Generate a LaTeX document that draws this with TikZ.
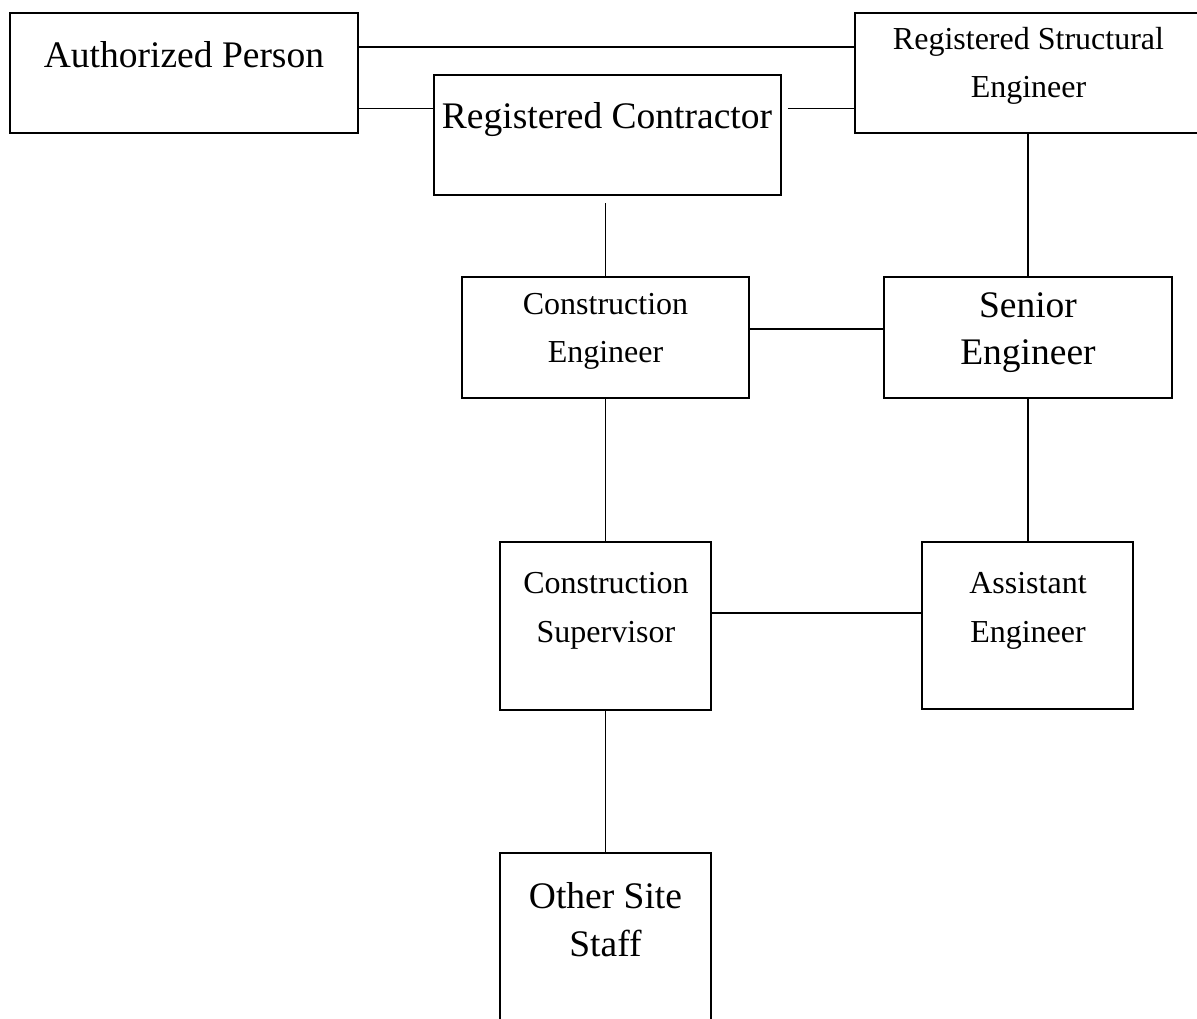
\documentclass[tikz,border=0pt]{standalone}
\usepackage{fontspec}
\setmainfont{Liberation Serif}
\usetikzlibrary{calc}
\tikzset{
  box/.style={draw=black, line width=1.6pt, rectangle, inner sep=0pt, fill=none},
  big/.style={font=\fontsize{37.5}{48}\selectfont, anchor=base, align=center, inner sep=0pt},
  small/.style={font=\fontsize{32}{48}\selectfont, anchor=base, align=center, inner sep=0pt},
  link/.style={draw=black, line width=1.8pt}
}
\begin{document}
\begin{tikzpicture}[x=1pt, y=-1pt]
\path[use as bounding box, clip] (0,0) rectangle (1197,1019);
\fill[white] (0,0) rectangle (1197,1019);
% boxes
\node[box, minimum width=348, minimum height=120] (ap) at (184,73) {};
\node[box, minimum width=347, minimum height=120] (rse) at (1028.5,73) {};
\node[box, minimum width=347, minimum height=120] (rc) at (607.5,135) {};
\node[box, minimum width=287, minimum height=121] (ce) at (605.5,337.5) {};
\node[box, minimum width=288, minimum height=121] (se) at (1028,337.5) {};
\node[box, minimum width=211, minimum height=168] (cs) at (605.5,626) {};
\node[box, minimum width=211, minimum height=167] (ae) at (1027.5,625.5) {};
\node[box, minimum width=211, minimum height=190] (oss) at (605.5,948) {};
% texts
\node[big] (apt) at (184,68) {Authorized Person};
\node[big] (rct) at (607,129) {Registered Contractor};
\node[small] (rset) at (1028.5,50) {Registered Structural};
\node[small] (rset2) at (1028.5,98) {Engineer};
\node[small] (cet) at (605.5,314) {Construction};
\node[small] (cet2) at (605.5,362) {Engineer};
\node[big] (set) at (1028,317) {Senior};
\node[big] (set2) at (1028,364) {Engineer};
\node[small] (cst) at (606,593) {Construction};
\node[small] (cst2) at (606,642) {Supervisor};
\node[small] (aet) at (1028,593) {Assistant};
\node[small] (aet2) at (1028,642) {Engineer};
\node[big] (osst) at (605.5,908) {Other Site};
\node[big] (osst2) at (605.5,956) {Staff};
% helper coordinates for connector heights
\coordinate (ytop) at (0,47);
\coordinate (yrc) at (0,108.5);
\coordinate (yce) at (0,329);
\coordinate (ycs) at (0,613);
\coordinate (ygap) at (0,203);
% connectors
\draw[link] (ap.east |- ytop) -- (rse.west |- ytop);
\draw[link] (ap.east |- yrc) -- (rc.west |- yrc);
\draw[link] ($(rc.east |- yrc)+(6,0)$) -- (rse.west |- yrc);
\draw[link] (ce.north) -- (ce.north |- ygap);
\draw[link] (se.north) -- (se.north |- rse.south);
\draw[link] (ce.east |- yce) -- (se.west |- yce);
\draw[link] (ce.south) -- (ce.south |- cs.north);
\draw[link] (se.south) -- (se.south |- ae.north);
\draw[link] (cs.east |- ycs) -- (ae.west |- ycs);
\draw[link] (cs.south) -- (cs.south |- oss.north);
\end{tikzpicture}
\end{document}
